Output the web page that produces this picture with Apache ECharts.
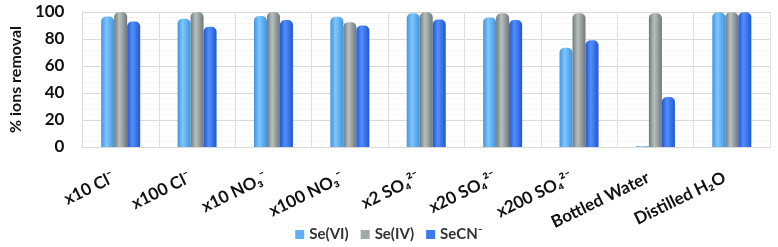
<!DOCTYPE html>
<html><head><meta charset="utf-8">
<script src="https://cdn.jsdelivr.net/npm/echarts@6/dist/echarts.min.js"></script>
<style>html,body{margin:0;padding:0;background:#fff}#c{width:778px;height:247px}</style>
</head><body><div id="c"></div>
<script>
const categories = ['x10 Cl⁻','x100 Cl⁻','x10 NO₃⁻','x100 NO₃⁻','x2 SO₄²⁻','x20 SO₄²⁻','x200 SO₄²⁻','Bottled Water','Distilled H₂O'];
const seVI  = [96.6, 95, 97, 96.5, 99, 96, 73.5, 0.5, 99.8];
const seIV  = [100, 100, 100, 92.5, 99.8, 99, 99, 99, 99.8];
const secn  = [93, 89, 94, 90, 94.5, 94, 79, 37, 99.8];
const yTicks = [0, 20, 40, 60, 80, 100];
const seriesNames = ['Se(VI)','Se(IV)','SeCN⁻'];

function grad(edge, mid) {
  return new echarts.graphic.LinearGradient(0,0,1,0,[
    {offset:0,color:edge},{offset:0.4,color:mid},{offset:1,color:edge}]);
}
const chart = echarts.init(document.getElementById('c'));
const F = 'Lato';
chart.setOption({
  animation:false,
  textStyle:{fontFamily:F},
  grid:{left:68,right:8,top:12,bottom:100},
  legend:{bottom:0,left:'center',itemWidth:9,itemHeight:9,itemGap:12,icon:'rect',
    data:[
      {name:seriesNames[0],itemStyle:{color:'#5db1f4'}},
      {name:seriesNames[1],itemStyle:{color:'#a1a9a9'}},
      {name:seriesNames[2],itemStyle:{color:'#3d7bf2'}}],
    textStyle:{fontFamily:F,fontSize:15,fontWeight:'bold',color:'#333'}},
  xAxis:{type:'category',data:categories,
    axisLine:{show:true,lineStyle:{color:'#d9d9d9'}},axisTick:{show:false},
    splitLine:{show:true,lineStyle:{color:'#e0e0e0'}},
    axisLabel:{interval:0,rotate:26,margin:26,padding:[0,8,0,0],fontFamily:F,fontSize:17,fontWeight:'bold',color:'#111'}},
  yAxis:{type:'value',min:yTicks[0],max:yTicks[yTicks.length-1],interval:20,
    name:'% ions removal',nameLocation:'middle',nameGap:55,
    nameTextStyle:{fontFamily:F,fontSize:16,fontWeight:'bold',color:'#111'},
    axisLine:{show:true,lineStyle:{color:'#d9d9d9'}},axisTick:{show:false},
    axisLabel:{fontFamily:F,fontSize:17,fontWeight:'bold',color:'#111',margin:18},
    splitLine:{lineStyle:{color:'#d9d9d9'}},
    minorTick:{show:false,splitNumber:5},
    minorSplitLine:{show:true,lineStyle:{color:'#f0f0f0',type:'dotted'}}},
  series:[
    {name:seriesNames[0],type:'bar',data:seVI,barWidth:13,barGap:'0%',
      itemStyle:{color:grad('#3f95e3','#7fc6fb'),borderRadius:[5,5,0,0]}},
    {name:seriesNames[1],type:'bar',data:seIV,barWidth:13,barGap:'0%',
      itemStyle:{color:grad('#6f7979','#b8bfbf'),borderRadius:[5,5,0,0]}},
    {name:seriesNames[2],type:'bar',data:secn,barWidth:13,barGap:'0%',
      itemStyle:{color:grad('#2455d6','#5090f8'),borderRadius:[5,5,0,0]}}
  ]
});
</script></body></html>
